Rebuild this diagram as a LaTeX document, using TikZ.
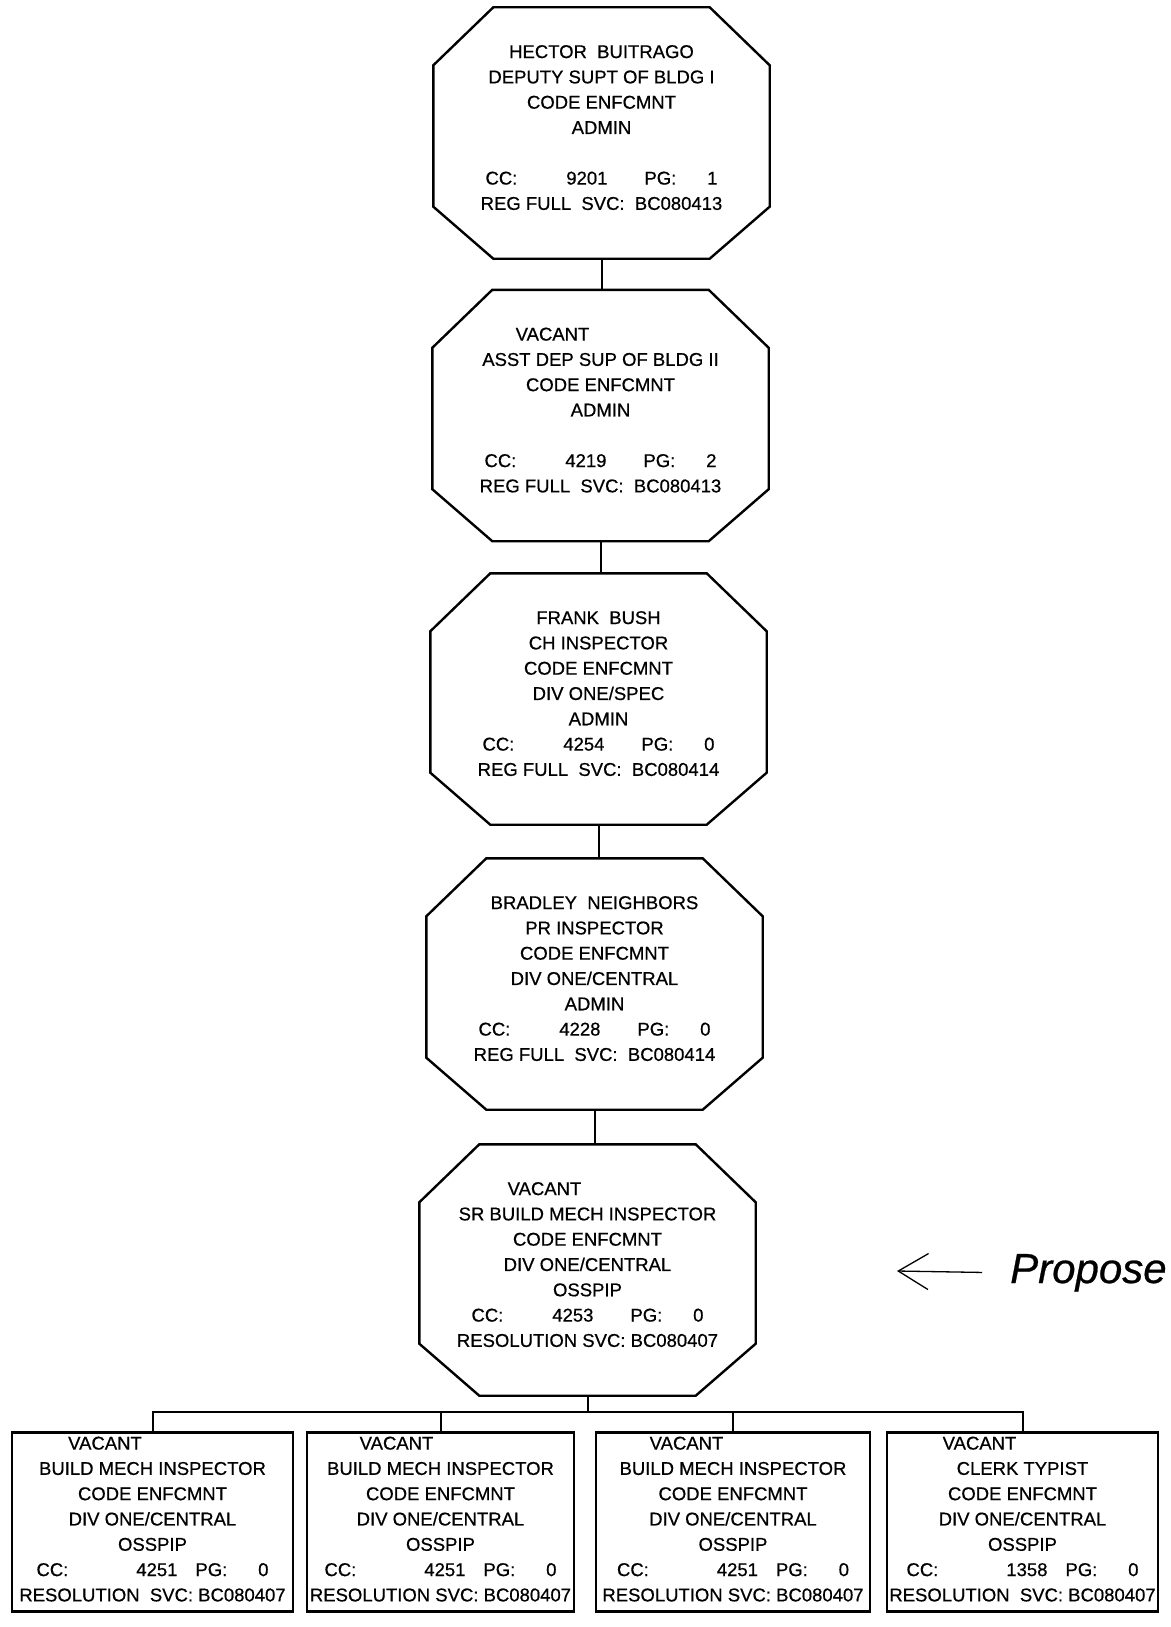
\documentclass[tikz,border=0pt]{standalone}
\usepackage{fontspec}
\setmainfont{Liberation Sans}[FakeBold=0.6]
\usetikzlibrary{arrows.meta}

\newcommand{\ccrow}[3][118pt]{%
  \makebox[232pt][l]{\rlap{CC:}\rlap{\makebox[#1][r]{#2}}\hspace{159pt}PG:\hfill #3}}

\begin{document}
\begin{tikzpicture}[x = 1pt, y = -1pt,
                    every node/.style = {font = \fontsize{18.5}{25.3}\selectfont},
                    post/.style = {minimum width = 336pt, minimum height = 251pt,
                                   inner sep = 0pt, align = center, text depth = 11pt},
                    slot/.style = {draw, line width = 2.4pt, minimum height = 179pt,
                                   inner sep = 0pt, align = center, text depth = 6pt},
                    link/.style = {line width = 2pt}]
      \clip (0, 0) rectangle (1170, 1627);
      \fill [white] (0, 0) rectangle (1170, 1627);

      \node [post] (hector) at (601.5, 133) {HECTOR\ \ BUITRAGO\\ DEPUTY SUPT OF BLDG I\\
            CODE ENFCMNT\\ ADMIN\\[25.3pt] \ccrow[122pt]{9201}{1}\\ REG FULL\ \ SVC:\ \ BC080413};
      \node [post] (asst) at (600.5, 415.5) {VACANT\hspace*{96pt}\\ ASST DEP SUP OF BLDG II\\
            CODE ENFCMNT\\ ADMIN\\[25.3pt] \ccrow[122pt]{4219}{2}\\ REG FULL\ \ SVC:\ \ BC080413};
      \node [post] (frank) at (598.5, 699) {FRANK\ \ BUSH\\ CH INSPECTOR\\ CODE ENFCMNT\\
            DIV ONE/SPEC\\ ADMIN\\ \ccrow[122pt]{4254}{0}\\ REG FULL\ \ SVC:\ \ BC080414};
      \node [post] (bradley) at (594.5, 984) {BRADLEY\ \ NEIGHBORS\\ PR INSPECTOR\\ CODE ENFCMNT\\
            DIV ONE/CENTRAL\\ ADMIN\\ \ccrow[122pt]{4228}{0}\\ REG FULL\ \ SVC:\ \ BC080414};
      \node [post] (srbmi) at (587.5, 1270) {VACANT\hspace*{86pt}\\ SR BUILD MECH INSPECTOR\\
            CODE ENFCMNT\\ DIV ONE/CENTRAL\\ OSSPIP\\ \ccrow[122pt]{4253}{0}\\ RESOLUTION SVC:\ BC080407};

      \foreach \n in {hector, asst, frank, bradley, srbmi}
        \draw [line width = 2.4pt]
              ([xshift = 60pt]\n.north west) -- ([xshift = -60pt]\n.north east)
              -- ([yshift = -58pt]\n.north east) -- ([yshift = 52pt]\n.south east)
              -- ([xshift = -60pt]\n.south east) -- ([xshift = 60pt]\n.south west)
              -- ([yshift = 52pt]\n.south west) -- ([yshift = -58pt]\n.north west) -- cycle;

      \node [slot, minimum width = 281pt] (b1) at (152.5, 1522) {VACANT\hspace*{95pt}\\
            BUILD MECH INSPECTOR\\ CODE ENFCMNT\\ DIV ONE/CENTRAL\\ OSSPIP\\
            \ccrow[141pt]{4251}{0}\\ RESOLUTION\ \ SVC:\ BC080407};
      \node [slot, minimum width = 267pt] (b2) at (440.5, 1522) {VACANT\hspace*{88pt}\\
            BUILD MECH INSPECTOR\\ CODE ENFCMNT\\ DIV ONE/CENTRAL\\ OSSPIP\\
            \ccrow[141pt]{4251}{0}\\ RESOLUTION\ SVC:\ BC080407};
      \node [slot, minimum width = 274pt] (b3) at (733, 1522) {VACANT\hspace*{93pt}\\
            BUILD MECH INSPECTOR\\ CODE ENFCMNT\\ DIV ONE/CENTRAL\\ OSSPIP\\
            \ccrow[141pt]{4251}{0}\\ RESOLUTION\ SVC:\ BC080407};
      \node [slot, minimum width = 271pt] (b4) at (1022.5, 1522) {VACANT\hspace*{86pt}\\
            CLERK TYPIST\\ CODE ENFCMNT\\ DIV ONE/CENTRAL\\ OSSPIP\\
            \ccrow[141pt]{1358}{0}\\ RESOLUTION\ \ SVC:\ BC080407};

      \draw [link] (hector.south) -- (hector.south |- asst.north)
                   (asst.south) -- (asst.south |- frank.north)
                   (frank.south) -- (frank.south |- bradley.north)
                   (bradley.south) -- (bradley.south |- srbmi.north);

      \coordinate (bus) at (587.5, 1412);
      \draw [link] (srbmi.south) -- (bus);
      \foreach \b in {b1, b2, b3, b4}
        \draw [link] (bus) -| (\b.north);

      % handwritten note
      \node [font = \fontsize{42}{46}\selectfont\itshape, anchor = base west, inner sep = 0pt]
            (note) at (1010, 1283) {Propose};
      \coordinate (tip) at (897, 1271);
      \draw [line width = 1.3pt, shorten <= 28pt,
             -{Straight Barb[length = 30pt, width = 36pt]}] (note.west) -- (tip);
    \end{tikzpicture}
\end{document}
